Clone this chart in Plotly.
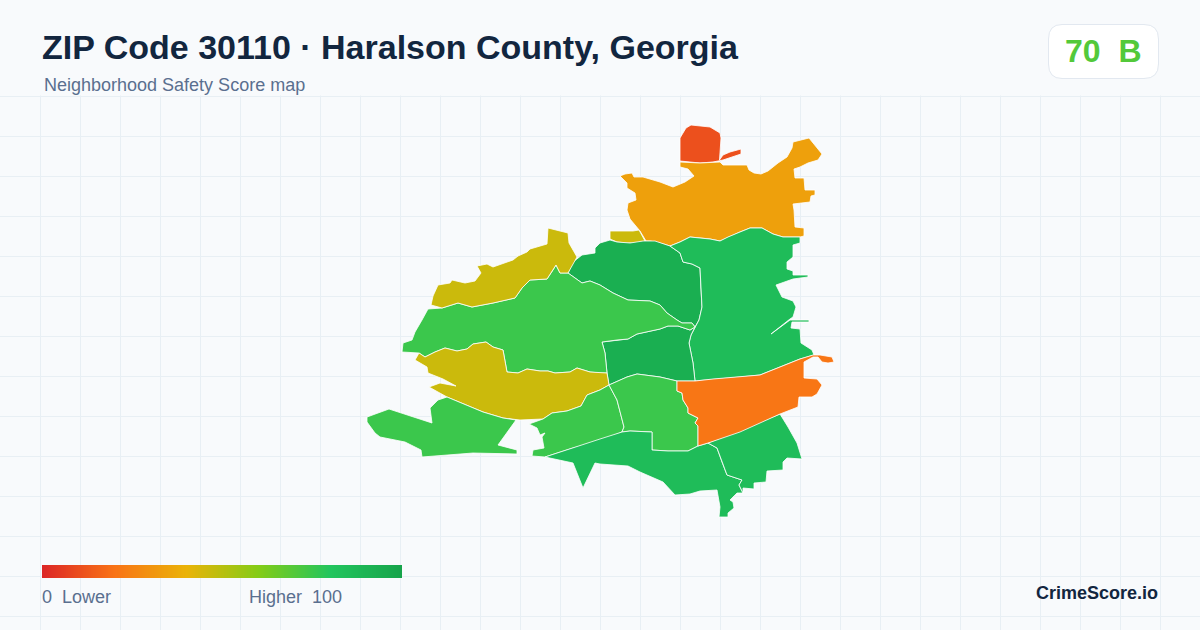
import plotly.graph_objects as go
from plotly.colors import sample_colorscale

TITLE = "ZIP Code 30110 · Haralson County, Georgia"
SUBTITLE = "Neighborhood Safety Score map"
SCORE_TEXT = "70\u00a0\u00a0B"
OVERALL_SCORE = 70
LEGEND_LOW = "0\u00a0\u00a0Lower"
LEGEND_HIGH = "Higher\u00a0\u00a0100"
BRAND = "CrimeScore.io"

SCALE_STOPS = [0, 20, 40, 60, 80, 100]
SCALE_COLORS = ["#dc2626", "#f97316", "#eab308", "#84cc16", "#22c55e", "#16a34a"]
LEGEND_VALUES = list(range(0, 101))

north_red = [(680,138),(686,128),(691,125),(700,126),(710,127),(720,133),(721,138),(719.5,160),(723,155),(730,152),(741,149),(741,154),(732,157),(723,160),(713,162),(700,163),(680,161)]
north_orange = [(680,162),(700,163),(720,162),(723,165),(747,165),(749,170),(754,173),(761,174),(768,171),(778,163),(787,157),(792,148),(793,142),(800,140),(809,138),(822,154),(818,160),(808,163),(800,167),(794,169),(795,178),(804,178),(805,190),(815,190),(815,195),(811,196),(810,202),(793,204),(794,210),(795,227),(804,228),(804,236),(800,237),(783,237),(773,234),(762,228),(750,228),(740,232),(728,237),(720,241),(710,239),(700,238),(690,237),(680,242),(670,246),(660,243),(650,241),(646,241),(640,231),(635,225),(630,219),(627,210),(628,203),(636,200),(635,193),(627,188),(627,183),(620,176),(625,174),(632,173),(634,177),(643,177),(660,182),(673,187),(685,182),(694,176),(688,169),(680,167)]
sliver_olive = [(610,231),(633,231),(639,230),(645,241),(637,243),(627,243),(617,242),(610,239)]
north_dark = [(568,273),(573,262),(582,255),(595,253),(595,248),(600,243),(610,240),(617,242),(630,243),(643,241),(655,241),(663,244),(670,246),(680,253),(683,262),(692,264),(700,268),(701,290),(702,307),(699,320),(695,327),(692,323),(682,323),(677,320),(667,313),(660,305),(650,301),(628,300),(613,293),(600,285),(590,281),(582,283)]
east_green = [(670,246),(680,242),(690,237),(700,238),(710,239),(720,241),(728,237),(740,232),(750,228),(762,228),(773,234),(783,237),(800,237),(800,243),(793,245),(793,257),(787,262),(787,269),(793,271),(793,275),(808,275),(808,277),(793,279),(776,285),(782,297),(793,301),(796,307),(793,317),(790,319),(771,334),(790,320),(809,320),(809,322),(792,322),(791,328),(800,329),(801,343),(812,350),(814,355),(800,359),(780,367),(760,375),(740,377),(713,379),(695,381),(693,363),(689,343),(691,335),(695,327),(699,320),(702,307),(701,290),(700,268),(692,264),(683,262),(680,253)]
mid_dark = [(602,342),(617,340),(628,339),(637,334),(660,329),(668,326),(678,326),(690,330),(695,327),(691,335),(689,343),(693,363),(695,381),(677,381),(660,377),(637,374),(627,377),(609,385),(607,373),(605,353)]
west_green = [(422,320),(428,309),(442,308),(458,303),(472,307),(493,303),(515,298),(522,288),(530,280),(547,279),(553,270),(556,265),(560,273),(568,273),(582,283),(590,281),(600,285),(613,293),(628,300),(650,301),(660,305),(667,313),(677,320),(682,323),(692,323),(695,327),(690,330),(678,326),(668,326),(660,329),(637,334),(628,339),(617,340),(602,342),(605,353),(607,373),(600,373),(590,372),(577,368),(570,372),(555,373),(548,371),(540,371),(527,369),(518,373),(507,372),(503,350),(493,347),(486,342),(473,344),(467,349),(457,351),(445,348),(435,352),(425,357),(419,353),(402,352),(403,343),(412,340),(415,332)]
north_olive = [(431,305),(433,296),(438,285),(450,283),(452,280),(465,283),(475,281),(481,273),(477,266),(487,264),(493,267),(505,263),(513,260),(518,256),(527,252),(530,249),(547,244),(548,228),(568,233),(569,243),(577,257),(568,273),(560,273),(556,265),(553,270),(547,279),(530,280),(522,288),(515,298),(493,303),(472,307),(458,303),(442,308)]
south_olive = [(419,353),(425,357),(435,352),(445,348),(457,351),(467,349),(473,344),(486,342),(493,347),(503,350),(507,372),(518,373),(527,369),(540,371),(548,371),(555,373),(570,372),(577,368),(590,372),(600,373),(607,373),(609,385),(600,390),(587,395),(581,406),(567,411),(552,413),(543,419),(520,420),(503,418),(483,412),(447,397),(429,387),(440,383),(456,386),(443,379),(428,373),(427,367),(415,360)]
southwest_green = [(367,417),(377,413),(389,409),(432,423),(430,408),(438,400),(447,397),(483,412),(503,418),(516,420),(498,445),(517,450),(517,454),(473,453),(447,455),(422,457),(421,450),(405,442),(380,437),(375,433),(367,422)]
south_left_green = [(529,424),(543,419),(552,413),(567,411),(581,406),(587,395),(600,390),(609,385),(617,400),(624,427),(622,432),(600,441),(573,448),(545,457),(532,456),(533,450),(544,448),(542,437),(545,433),(540,435),(537,428)]
south_center_green = [(609,385),(627,377),(637,374),(660,377),(677,381),(677,391),(682,393),(683,400),(688,408),(688,413),(698,418),(695,423),(698,426),(698,446),(688,451),(668,451),(652,450),(652,432),(630,431),(622,432),(624,427),(617,400)]
southeast_orange = [(677,381),(695,381),(713,379),(740,377),(760,375),(780,367),(800,359),(813,355),(820,355),(832,357),(834,362),(828,363),(822,362),(818,357),(813,357),(804,362),(804,378),(817,379),(822,385),(817,394),(812,397),(799,397),(798,407),(780,414),(760,423),(740,432),(708,443),(698,446),(698,426),(695,423),(698,418),(688,413),(688,408),(683,400),(682,393),(677,391)]
south_green = [(600,439),(622,432),(630,431),(652,432),(652,450),(668,451),(688,451),(698,446),(708,443),(717,448),(722,462),(727,475),(742,480),(739,485),(743,493),(737,493),(730,500),(733,502),(734,508),(728,513),(728,517),(719,517),(720,507),(717,490),(700,491),(690,494),(675,495),(663,482),(640,472),(628,466),(600,464),(595,463),(583,488),(573,463),(545,457)]
southeast_green = [(708,443),(780,414),(788,427),(797,443),(802,459),(787,458),(783,462),(783,470),(767,471),(766,482),(754,483),(754,489),(743,488),(743,493),(739,485),(742,480),(727,475),(722,462),(717,448)]

REGIONS = [north_red, north_orange, sliver_olive, north_dark, east_green, mid_dark, west_green,
           north_olive, south_olive, southwest_green, south_left_green, south_center_green,
           south_green, southeast_green, southeast_orange]
REGION_SCORES = [11, 34, 46, 93, 85, 93, 75, 46, 46, 75, 75, 75, 85, 85, 21]

colorscale = [[s / 100, c] for s, c in zip(SCALE_STOPS, SCALE_COLORS)]

def score_color(v):
    return sample_colorscale(colorscale, v / 100, colortype="rgb")[0]

fig = go.Figure()
for region, score in zip(REGIONS, REGION_SCORES):
    xs = [p[0] for p in region] + [region[0][0]]
    ys = [p[1] for p in region] + [region[0][1]]
    fig.add_trace(go.Scatter(x=xs, y=ys, mode="lines", fill="toself",
                             fillcolor=score_color(score),
                             line=dict(color="#ffffff", width=0.8),
                             hoverinfo="skip", showlegend=False, xaxis="x", yaxis="y"))

fig.add_trace(go.Heatmap(z=[LEGEND_VALUES], x=LEGEND_VALUES, y=[0], zmin=0, zmax=100,
                         colorscale=colorscale, zsmooth="best", showscale=False,
                         hoverinfo="skip", xaxis="x2", yaxis="y2"))

FONT = "Liberation Sans, Arial, sans-serif"
TITLE_COLOR = "#12263f"
MUTED = "#5a6f8f"

def text(x, y, s, size, color, bold=False, anchor="left"):
    return dict(x=x, y=y, xref="x", yref="y", text=f"<b>{s}</b>" if bold else s,
                showarrow=False, xanchor=anchor, yanchor="middle",
                font=dict(family=FONT, size=size, color=color), borderpad=0, borderwidth=0)

badge = ("M 1062 24.5 L 1144 24.5 Q 1158.5 24.5 1158.5 39 L 1158.5 64 Q 1158.5 78.5 1144 78.5 "
         "L 1062 78.5 Q 1048.5 78.5 1048.5 64 L 1048.5 39 Q 1048.5 24.5 1062 24.5 Z")

fig.update_layout(
    width=1200, height=630, margin=dict(l=0, r=0, t=0, b=0),
    autosize=False,
    paper_bgcolor="#f8fafc", plot_bgcolor="#f8fafc",
    xaxis=dict(domain=[0, 1], range=[0, 1200], dtick=40, tick0=0, showgrid=True, gridcolor="#e8eff4", gridwidth=1,
               zeroline=False, showline=False, ticks="", showticklabels=False, fixedrange=True),
    yaxis=dict(domain=[0, 1], range=[630, 0], dtick=40, tick0=16, showgrid=True, gridcolor="#e8eff4", gridwidth=1,
               zeroline=False, showline=False, ticks="", showticklabels=False, fixedrange=True),
    xaxis2=dict(domain=[42/1200, 402/1200], range=[0, 100], visible=False, anchor="y2", fixedrange=True),
    yaxis2=dict(domain=[(630-578)/630, (630-565)/630], range=[-0.5, 0.5], visible=False, anchor="x2", fixedrange=True),
    shapes=[
        dict(type="rect", xref="x", yref="y", x0=0, x1=1200, y0=0, y1=95.5, layer="between",
             fillcolor="#f8fafc", line=dict(width=0)),
        dict(type="path", xref="x", yref="y", path=badge, fillcolor="#ffffff",
             line=dict(color="#e2e8f0", width=1), layer="above"),
    ],
    annotations=[
        text(42, 47, TITLE, 34, TITLE_COLOR, bold=True),
        text(44, 85, SUBTITLE, 18, MUTED),
        text(1103, 51, SCORE_TEXT, 32, score_color(OVERALL_SCORE), bold=True, anchor="center"),
        text(42, 597, LEGEND_LOW, 18, MUTED),
        text(249, 597, LEGEND_HIGH, 18, MUTED),
        text(1158, 593, BRAND, 18, TITLE_COLOR, bold=True, anchor="right"),
    ],
)

fig.write_html("out.html", config=dict(displayModeBar=False),
               post_script="document.documentElement.style.margin='0';document.body.style.margin='0';document.body.style.background='#f8fafc';")
